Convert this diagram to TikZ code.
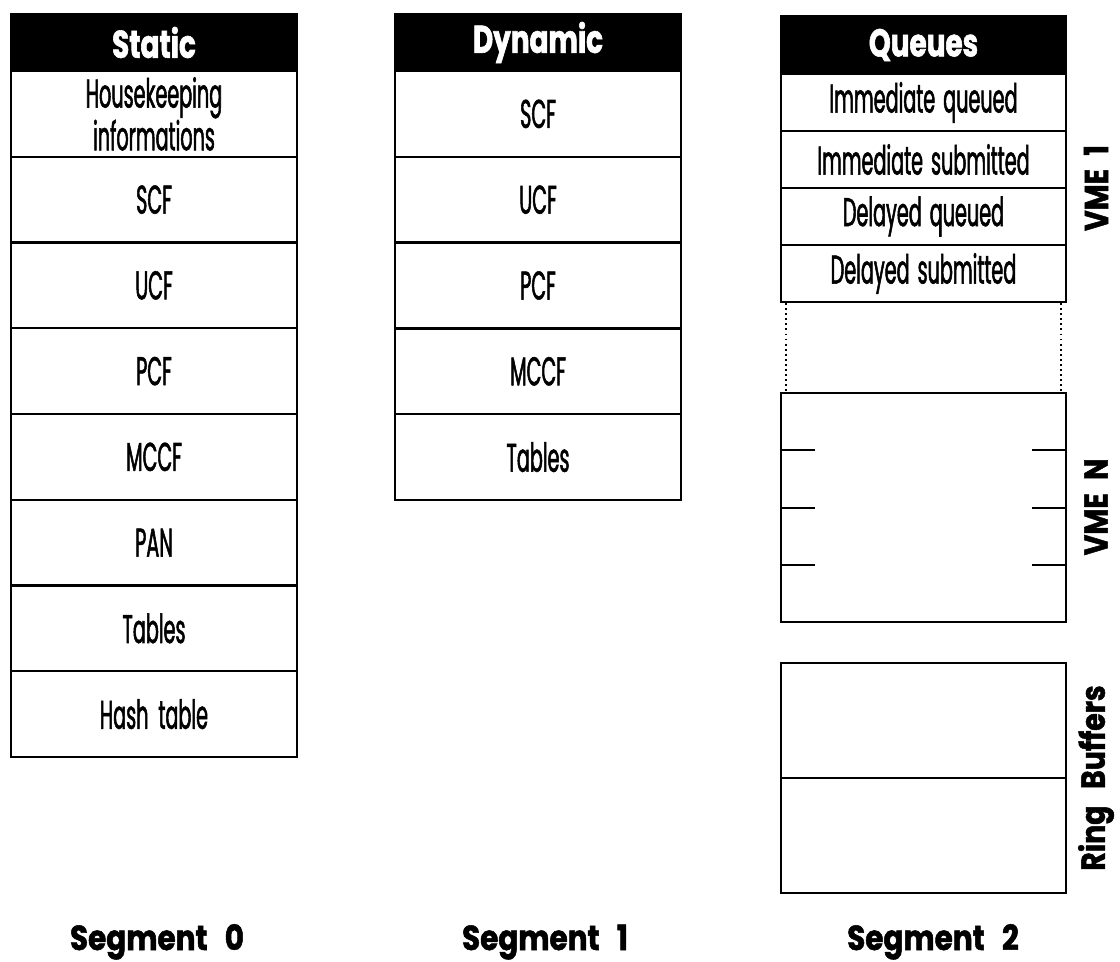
\documentclass[tikz,border=0pt]{standalone}
\usepackage{fontspec}
\usetikzlibrary{calc}
\newfontfamily\bodyfont{Poppins}[FakeStretch=0.48, FakeBold=1.3]
\newfontfamily\headfont{Poppins}[FakeStretch=0.72, FakeBold=1.5]
\newfontfamily\capfont{Poppins}[FakeStretch=0.85, FakeBold=1.5]
\newfontfamily\sidefont{Poppins}[FakeStretch=0.85, FakeBold=1.5]
\begin{document}
\begin{tikzpicture}[x=0.75pt,y=-0.75pt,
  cell/.style={draw=black, line width=1.7pt, rectangle, inner sep=0pt,
    minimum width=214pt, align=center,
    font=\bodyfont\fontsize{30}{21.5}\selectfont},
  tallcell/.style={cell, minimum height=64.3pt},
  qcell/.style={cell, minimum height=42.75pt},
  head/.style={cell, fill=black, text=white, minimum height=42.75pt,
    font=\headfont\bfseries\fontsize{29}{29}\selectfont},
  sidelabel/.style={rotate=90, inner sep=1pt, font=\sidefont\bfseries\fontsize{25}{25}\selectfont},
  seglabel/.style={anchor=base, font=\capfont\bfseries\fontsize{26}{26}\selectfont},
  tick/.style={line width=1.5pt},
  gap/.style={line width=1.4pt, dash pattern=on 1.4pt off 2.4pt}]
\useasboundingbox (0,0) rectangle (1120,962);

% Segment 0: static area
\node[head] (s0h) at (154,42.5) {Static};
\foreach \t [count=\i] in {{Housekeeping\\informations},SCF,UCF,PCF,MCCF,PAN,Tables,{Hash\hspace{0.25em}table}}
  \node[tallcell] (s0r\i) at (154,{71+85.75*(\i-0.5)}) {\t};

% Segment 1: dynamic area
\node[head] (s1h) at (538,42.5) {Dynamic};
\foreach \t [count=\i] in {SCF,UCF,PCF,MCCF,Tables}
  \node[tallcell] (s1r\i) at (538,{71+85.8*(\i-0.5)}) {\t};

% Segment 2: queues of the first VME
\node[head] (s2h) at (923.5,45) {Queues};
\foreach \t [count=\i] in {Immediate\hspace{0.2em}queued,Immediate\hspace{0.2em}submitted,Delayed\hspace{0.2em}queued,Delayed\hspace{0.2em}submitted}
  \node[qcell] (q\i) at (923.5,{74+57*(\i-0.5)}) {\t};

% queues of the last VME
\node[cell, minimum height=171.75pt] (vn) at (923.5,507.5) {};
\foreach \f in {0.25,0.5,0.75} {
  \draw[tick] ($(vn.north west)!\f!(vn.south west)$) -- ++(35,0);
  \draw[tick] ($(vn.north east)!\f!(vn.south east)$) -- ++(-35,0);
}

% elided VMEs in between
\draw[gap] ($(q4.south west)+(6,0)$) -- ($(vn.north west)+(6,0)$);
\draw[gap] ($(q4.south east)+(-6,0)$) -- ($(vn.north east)+(-6,0)$);

% ring buffers
\node[cell, minimum height=86.25pt] (rb1) at (923.5,720.5) {};
\node[cell, minimum height=86.25pt] (rb2) at (923.5,835.5) {};

% side labels
\node[sidelabel] (vme1) at (1096,188) {VME\hspace{0.4em}1};
\node[sidelabel] (vmen) at (1096,507) {VME\hspace{0.4em}N};
\node[sidelabel] (ring) at (1096,778) {Ring\hspace{0.5em}Buffers};

% segment captions
\node[seglabel] (seg0) at (157,950) {Segment\hspace{0.5em}0};
\node[seglabel] (seg1) at (545,950) {Segment\hspace{0.5em}1};
\node[seglabel] (seg2) at (933,950) {Segment\hspace{0.5em}2};
\end{tikzpicture}
\end{document}
